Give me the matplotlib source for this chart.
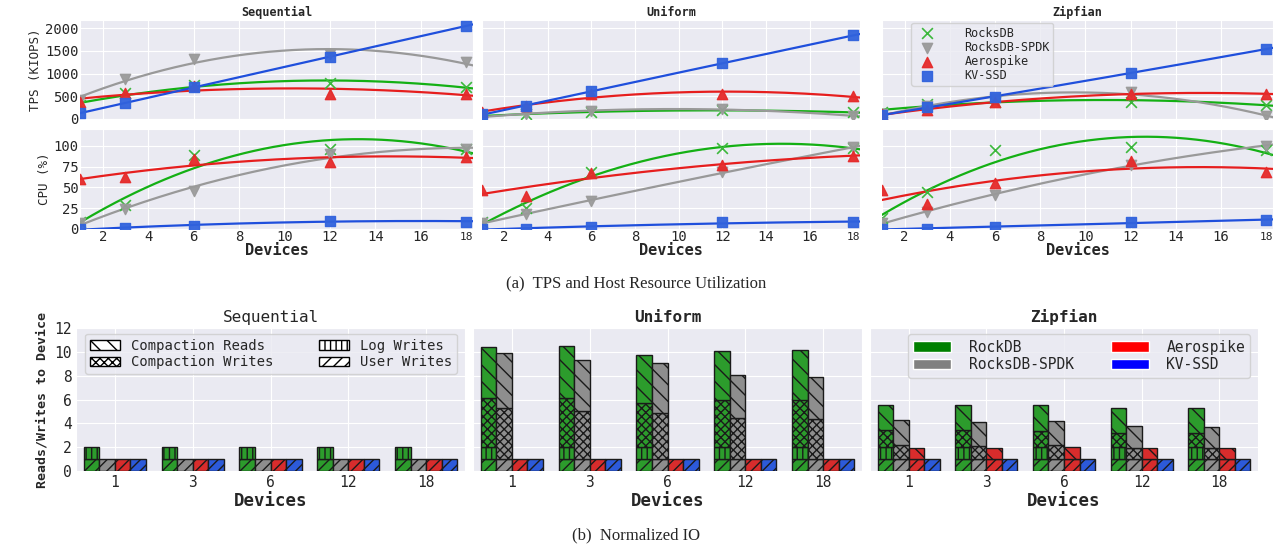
import matplotlib.pyplot as plt
import numpy as np
import seaborn as sns
from matplotlib.patches import Patch

sns.set_style('darkgrid')
plt.rcParams['font.family'] = ['DejaVu Sans Mono', 'DejaVu Sans']
plt.rcParams['hatch.linewidth'] = 1.0

devices = [1, 3, 6, 12, 18]
systems = ['RocksDB', 'RocksDB-SPDK', 'Aerospike', 'KV-SSD']
workloads = ['Sequential', 'Uniform', 'Zipfian']

# throughput in KIOPS (RocksDB, RocksDB-SPDK, Aerospike, KV-SSD)
tps_seq_rocks = [300, 580, 740, 790, 710]
tps_seq_spdk = [420, 880, 1330, 1430, 1250]
tps_seq_aero = [380, 580, 720, 560, 560]
tps_seq_kv = [130, 350, 700, 1370, 2050]

tps_uni_rocks = [70, 100, 160, 190, 145]
tps_uni_spdk = [50, 110, 175, 220, 65]
tps_uni_aero = [150, 280, 550, 540, 505]
tps_uni_kv = [100, 290, 610, 1230, 1840]

tps_zip_rocks = [160, 330, 380, 380, 315]
tps_zip_spdk = [100, 280, 450, 590, 60]
tps_zip_aero = [110, 190, 375, 560, 550]
tps_zip_kv = [80, 265, 490, 1015, 1540]

# host CPU utilization (%)
cpu_seq_rocks = [8, 29, 89, 96, 96]
cpu_seq_spdk = [7, 24, 46, 90, 96]
cpu_seq_aero = [60, 63, 84, 81, 87]
cpu_seq_kv = [0, 1, 4, 10, 9]

cpu_uni_rocks = [8, 25, 68, 97, 97]
cpu_uni_spdk = [7, 18, 34, 68, 98]
cpu_uni_aero = [47, 40, 67, 77, 88]
cpu_uni_kv = [0, 0.5, 2, 8, 8.5]

cpu_zip_rocks = [13, 44, 95, 98, 95]
cpu_zip_spdk = [7, 21, 41, 77, 100]
cpu_zip_aero = [47, 30, 55, 82, 69]
cpu_zip_kv = [0, 0.5, 2, 8, 11]

tps = {
    'Sequential': [tps_seq_rocks, tps_seq_spdk, tps_seq_aero, tps_seq_kv],
    'Uniform': [tps_uni_rocks, tps_uni_spdk, tps_uni_aero, tps_uni_kv],
    'Zipfian': [tps_zip_rocks, tps_zip_spdk, tps_zip_aero, tps_zip_kv],
}
cpu = {
    'Sequential': [cpu_seq_rocks, cpu_seq_spdk, cpu_seq_aero, cpu_seq_kv],
    'Uniform': [cpu_uni_rocks, cpu_uni_spdk, cpu_uni_aero, cpu_uni_kv],
    'Zipfian': [cpu_zip_rocks, cpu_zip_spdk, cpu_zip_aero, cpu_zip_kv],
}

# normalized IO: segments per bar, bottom to top
io_parts = ['User Writes', 'Log Writes', 'Compaction Writes', 'Compaction Reads']
io_sys_labels = ['RockDB', 'RocksDB-SPDK', 'Aerospike', 'KV-SSD']

ones = [1, 1, 1, 1, 1]
zeros = [0, 0, 0, 0, 0]

seq_rocks = [ones, ones, zeros, zeros]
seq_spdk = [ones, zeros, zeros, zeros]
seq_aero = [ones, zeros, zeros, zeros]
seq_kv = [ones, zeros, zeros, zeros]

uni_rocks = [ones, ones, [4.1, 4.15, 3.72, 3.92, 4.0], [4.3, 4.35, 3.98, 4.14, 4.17]]
uni_spdk = [ones, zeros, [4.3, 4.07, 3.87, 3.45, 3.36], [4.6, 4.23, 4.17, 3.57, 3.49]]
uni_aero = [ones, zeros, zeros, zeros]
uni_kv = [ones, zeros, zeros, zeros]

zip_rocks = [ones, ones, [1.4, 1.4, 1.34, 1.17, 1.17], [2.15, 2.15, 2.16, 2.1, 2.1]]
zip_spdk = [ones, zeros, [1.18, 1.12, 1.18, 0.95, 0.95], [2.07, 1.96, 1.98, 1.82, 1.73]]
zip_aero = [ones, zeros, zeros, [0.9, 0.95, 1.0, 0.95, 0.95]]
zip_kv = [ones, zeros, zeros, zeros]

io = {
    'Sequential': [seq_rocks, seq_spdk, seq_aero, seq_kv],
    'Uniform': [uni_rocks, uni_spdk, uni_aero, uni_kv],
    'Zipfian': [zip_rocks, zip_spdk, zip_aero, zip_kv],
}

# styles
line_colors = ['#14b014', '#999999', '#e61e1e', '#1f4fdc']
marker_colors = ['#3cb83c', '#9a9a9a', '#e52a2a', '#3163dd']
markers = ['x', 'v', '^', 's']
bar_colors = ['#2c9c2c', '#8e8e8e', '#d82c2c', '#2c5ada']
legend_colors = ['green', 'gray', 'red', 'blue']
hatches = ['///', '|||', 'xxxx', '\\\\']

W, H = 1273, 548
fig = plt.figure(figsize=(W / 100, H / 100), dpi=100)


def add_ax(x0, x1, y0, y1):
    return fig.add_axes([x0 / W, 1 - y1 / H, (x1 - x0) / W, (y1 - y0) / H])


top_cols = [(80, 473), (482, 860), (882, 1273)]
bot_cols = [(76, 465), (473, 862), (870, 1258)]

xs = np.linspace(1, 18.3, 200)

for c, wl in enumerate(workloads):
    ax_t = add_ax(*top_cols[c], 20, 119)
    ax_c = add_ax(*top_cols[c], 129, 229)
    for ax, data, ylim in [(ax_t, tps[wl], 2180), (ax_c, cpu[wl], 120)]:
        for i, name in enumerate(systems):
            y = np.array(data[i], dtype=float)
            coef = np.polyfit(devices, y, 2)
            ax.plot(xs, np.polyval(coef, xs), color=line_colors[i], lw=1.6, zorder=3)
            if markers[i] == 'x':
                ax.scatter(devices, y, marker='x', s=60, color=marker_colors[i],
                           linewidths=1.2, zorder=4, label=name)
            else:
                ax.scatter(devices, y, marker=markers[i], s=55, color=marker_colors[i],
                           zorder=4, label=name, alpha=0.95)
        ax.set_xlim(1, 18.3)
        ax.set_ylim(0, ylim)
        ax.set_xticks(range(2, 17, 2))
        ax.set_xticks([18], minor=True)
        ax.tick_params(axis='both', labelsize=10, pad=1, length=0)
    ax_t.set_yticks([0, 500, 1000, 1500, 2000])
    ax_c.set_yticks([0, 25, 50, 75, 100])
    ax_t.tick_params(axis='x', which='both', labelbottom=False)
    ax_c.set_xticklabels([str(v) for v in range(2, 17, 2)])
    ax_c.set_xticklabels(['18'], minor=True, fontsize=8)
    ax_c.tick_params(axis='x', which='minor', length=0, pad=2)
    ax_t.set_title(wl, fontsize=8.5, fontweight='bold', pad=3)
    ax_c.set_xlabel('Devices', fontsize=11, fontweight='bold', labelpad=-1)
    if c == 0:
        ax_t.set_ylabel('TPS (KIOPS)', fontsize=9, labelpad=2)
        ax_c.set_ylabel('CPU (%)', fontsize=9, labelpad=2)
    else:
        ax_t.tick_params(axis='y', labelleft=False)
        ax_c.tick_params(axis='y', labelleft=False)
    if c == 2:
        ax_t.legend(loc='upper left', bbox_to_anchor=(0.075, 0.97), fontsize=8.5,
                    frameon=True, labelspacing=0.1, borderpad=0.3,
                    handletextpad=2.2, borderaxespad=0)

    # normalized IO bars
    ax_b = add_ax(*bot_cols[c], 328, 471)
    x = np.arange(len(devices))
    width = 0.2
    for i in range(4):
        bottom = np.zeros(len(devices))
        for p in range(4):
            h = np.array(io[wl][i][p], dtype=float)
            if h.sum() == 0:
                continue
            ax_b.bar(x + (i - 1.5) * width, h, width, bottom=bottom,
                     color=bar_colors[i], edgecolor='#1a1a1a', linewidth=1.0,
                     hatch=hatches[p], zorder=3)
            bottom += h
    ax_b.set_xlim(-0.5, 4.5)
    ax_b.set_ylim(0, 12)
    ax_b.set_yticks(range(0, 13, 2))
    ax_b.set_xticks(x, [str(d) for d in devices])
    ax_b.tick_params(axis='both', labelsize=10.5, pad=3, length=0)
    ax_b.set_xlabel('Devices', fontsize=12.5, fontweight='bold', labelpad=1)
    if c == 0:
        ax_b.set_title(wl, fontsize=11.5, pad=4)
        ax_b.set_ylabel('Reads/Writes to Device', fontsize=9.5, fontweight='bold', labelpad=4)
        handles = [Patch(facecolor='white', edgecolor='black', hatch=hatches[p], label=io_parts[p])
                   for p in [3, 2, 1, 0]]
        ax_b.legend(handles=handles, ncol=2, loc='upper left', mode='expand',
                    bbox_to_anchor=(0.023, 0.96, 0.957, 0.0), fontsize=10,
                    labelspacing=0.2, borderpad=0.35, handlelength=2.2,
                    handletextpad=0.8, borderaxespad=0)
    else:
        ax_b.set_title(wl, fontsize=11.5, fontweight='bold', pad=4)
        ax_b.tick_params(axis='y', labelleft=False)
    if c == 2:
        handles = [Patch(facecolor=legend_colors[i], label=io_sys_labels[i]) for i in range(4)]
        ax_b.legend(handles=handles, ncol=2, loc='upper left', mode='expand',
                    bbox_to_anchor=(0.098, 0.955, 0.882, 0.0), fontsize=10.5,
                    labelspacing=0.2, borderpad=0.35, handlelength=2.6,
                    handletextpad=1.2, borderaxespad=0)

fig.text(0.5, 1 - 283 / H, '(a)  TPS and Host Resource Utilization', ha='center', va='center',
         fontsize=12, family='Liberation Serif')
fig.text(0.5, 1 - 535 / H, '(b)  Normalized IO', ha='center', va='center',
         fontsize=12, family='Liberation Serif')

fig.savefig('out.png', dpi=100)
